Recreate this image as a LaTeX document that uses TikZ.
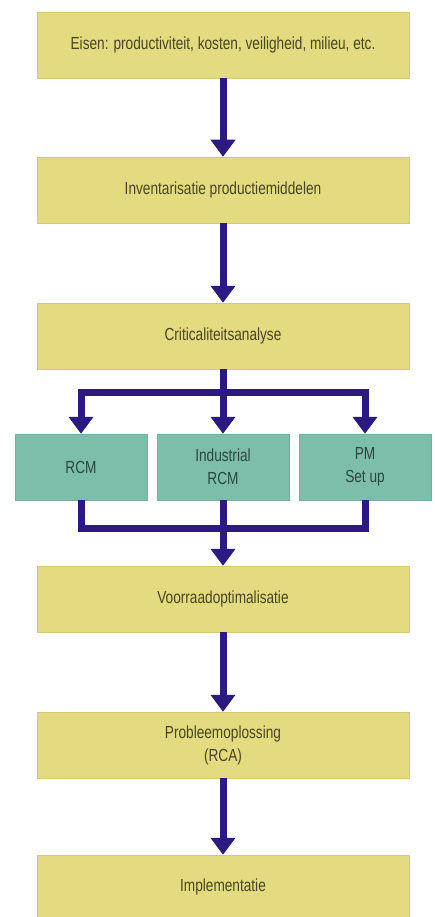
\documentclass[tikz,border=0pt]{standalone}
\usepackage{fontspec}
\setmainfont{Liberation Sans}[FakeStretch=0.78]
\usetikzlibrary{arrows.meta}
\definecolor{boxyellow}{RGB}{228,219,128}
\definecolor{boxteal}{RGB}{124,190,170}
\definecolor{linkblue}{RGB}{44,26,130}
\definecolor{txtolive}{RGB}{72,70,34}
\definecolor{txtteal}{RGB}{44,72,60}
\tikzset{
  ybox/.style={fill=boxyellow, draw=boxyellow!92!black, line width=0.5pt, minimum width=372pt, minimum height=66pt, inner sep=0pt, align=center, text=txtolive, font=\fontsize{17.5}{23}\selectfont},
  tbox/.style={fill=boxteal, draw=boxteal!92!black, line width=0.5pt, minimum width=132pt, minimum height=66pt, inner sep=0pt, align=center, text=txtteal, font=\fontsize{17.5}{23}\selectfont},
  link/.style={draw=linkblue, line width=7pt, line join=miter},
  flow/.style={link, -{Triangle[width=24pt,length=17pt]}},
}
\begin{document}
\begin{tikzpicture}[x=1pt,y=-1pt]
\useasboundingbox[fill=white] (0,0) rectangle (435,917);
\node[ybox] (eisen) at (223,45) {Eisen: productiviteit, kosten, veiligheid, milieu, etc.};
\node[ybox] (inv) at (223,190) {Inventarisatie productiemiddelen};
\node[ybox] (crit) at (223,336) {Criticaliteitsanalyse};
\node[tbox] (rcm) at (81,467) {RCM};
\node[tbox] (ind) at (223,467) {Industrial\\RCM};
\node[tbox] (pm) at (365,467) {PM\\Set up};
\node[ybox] (opt) at (223,599) {Voorraadoptimalisatie};
\node[ybox] (rca) at (223,745) {Probleemoplossing\\(RCA)};
\node[ybox, minimum height=64pt] (impl) at (223,887) {Implementatie};
\coordinate (c1) at (223,392);
\coordinate (c2) at (223,528);
\draw[flow] (eisen.south) -- (inv.north);
\draw[flow] (inv.south) -- (crit.north);
\draw[link] (crit.south) -- (c1);
\draw[flow] (c1) -| (rcm.north);
\draw[flow] (c1) -| (pm.north);
\draw[flow] (c1) -- (ind.north);
\draw[link] (rcm.south) |- (c2) -| (pm.south);
\draw[flow] (ind.south) -- (opt.north);
\draw[flow] (opt.south) -- (rca.north);
\draw[flow] (rca.south) -- (impl.north);
\end{tikzpicture}
\end{document}
